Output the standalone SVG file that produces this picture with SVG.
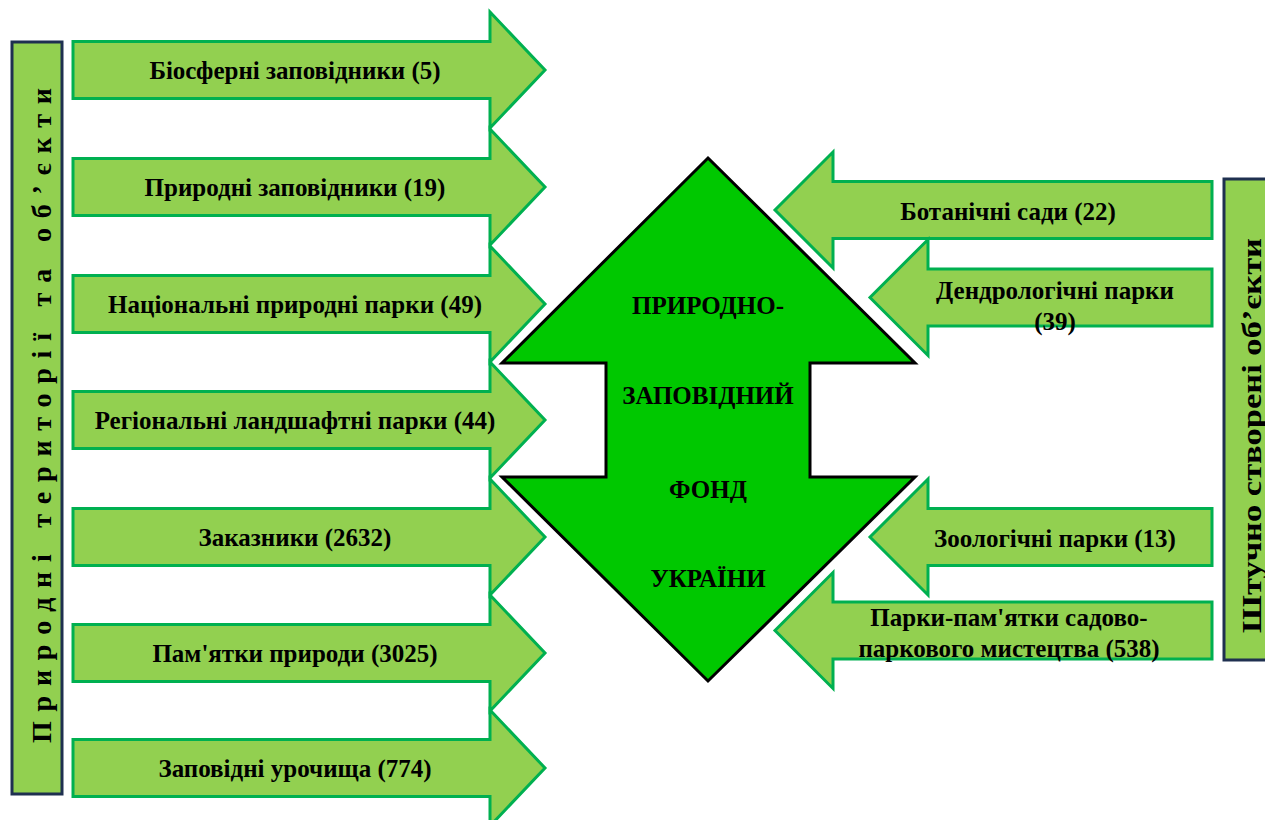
<svg xmlns="http://www.w3.org/2000/svg" width="1265" height="820" viewBox="0 0 1265 820">
<style>
.arr{fill:#92d050;stroke:#00b050;stroke-width:3;stroke-linejoin:miter}
.bar{fill:#92d050;stroke:#1f3050;stroke-width:3}
.t{font-family:"Liberation Serif","Times New Roman",serif;font-weight:bold;font-size:25px;fill:#000;text-anchor:middle}
.vt{font-family:"Liberation Serif","Times New Roman",serif;font-weight:bold;font-size:28px;fill:#000;text-anchor:middle}
.big{fill:#00c800;stroke:#000;stroke-width:3}
</style>
<rect width="1265" height="820" fill="#fff"/>
<g id="left-bar">
<rect class="bar" x="12" y="42" width="50" height="752"/>
<text class="vt" transform="translate(51,415.5) rotate(-90)" textLength="655" lengthAdjust="spacing">Природні території та об’єкти</text>
</g>
<g id="right-bar">
<rect class="bar" x="1224" y="179" width="60" height="481"/>
<text class="vt" transform="translate(1261,435.5) rotate(-90)" textLength="395" lengthAdjust="spacingAndGlyphs">Штучно створені об’єкти</text>
</g>
<g id="connectors">
<g id="l1"><path class="arr" d="M73,41.5H490V12L545,70L490,128V98.5H73Z"/><text class="t" x="295" y="79">Біосферні заповідники (5)</text></g>
<g id="l2"><path class="arr" d="M73,158.5H490V129L545,187L490,245V215.5H73Z"/><text class="t" x="295" y="196">Природні заповідники (19)</text></g>
<g id="l3"><path class="arr" d="M73,275.5H490V246L545,304L490,362V332.5H73Z"/><text class="t" x="295" y="313">Національні природні парки (49)</text></g>
<g id="l4"><path class="arr" d="M73,391.5H490V362L545,420L490,478V448.5H73Z"/><text class="t" x="295" y="429">Регіональні ландшафтні парки (44)</text></g>
<g id="l5"><path class="arr" d="M73,508.5H490V479L545,537L490,595V565.5H73Z"/><text class="t" x="295" y="546">Заказники (2632)</text></g>
<g id="l6"><path class="arr" d="M73,624.5H490V595L545,653L490,711V681.5H73Z"/><text class="t" x="295" y="662">Пам'ятки природи (3025)</text></g>
<g id="l7"><path class="arr" d="M73,739.5H490V710L545,768L490,826V796.5H73Z"/><text class="t" x="295" y="777">Заповідні урочища (774)</text></g>
<g id="r1"><path class="arr" d="M1212,181.5H833V152L775,210L833,268V238.5H1212Z"/><text class="t" x="1008" y="220">Ботанічні сади (22)</text></g>
<g id="r2"><path class="arr" d="M1212,269H928V239.5L870,297.5L928,355.5V326H1212Z"/><text class="t" x="1055" y="299">Дендрологічні парки</text><text class="t" x="1055" y="330">(39)</text></g>
<g id="r3"><path class="arr" d="M1212,508.5H928V479L870,537L928,595V565.5H1212Z"/><text class="t" x="1055" y="547">Зоологічні парки (13)</text></g>
<g id="r4"><path class="arr" d="M1212,602H833V572.5L775,630.5L833,688.5V659H1212Z"/><text class="t" x="1009" y="626">Парки-пам'ятки садово-</text><text class="t" x="1009" y="657">паркового мистецтва (538)</text></g>
</g>
<g id="center">
<path class="big" d="M708,158L915,363H810V477H915L708,681L502,477H606V363H502Z"/>
<text class="t" x="708" y="314">ПРИРОДНО-</text>
<text class="t" x="708" y="404">ЗАПОВІДНИЙ</text>
<text class="t" x="708" y="498">ФОНД</text>
<text class="t" x="708" y="587">УКРАЇНИ</text>
</g>
</svg>
